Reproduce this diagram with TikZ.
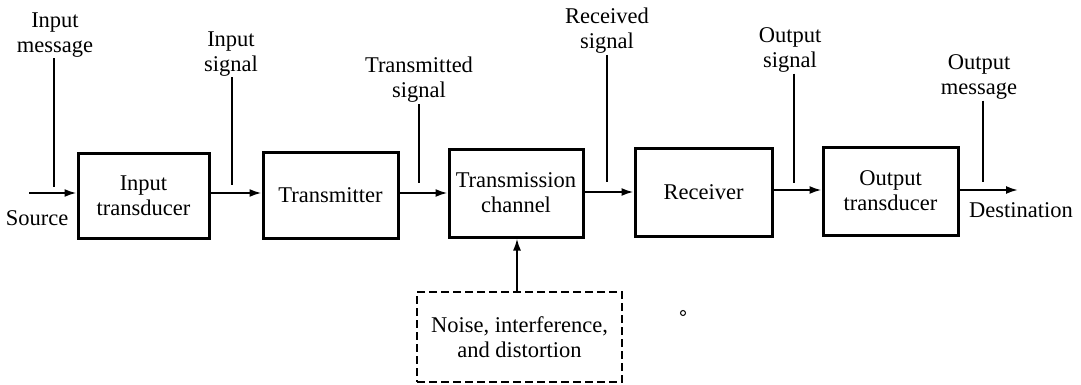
\documentclass[tikz,border=0pt]{standalone}
\usepackage{fontspec}
\setmainfont{Liberation Serif}
\usetikzlibrary{arrows.meta}
\begin{document}
\begin{tikzpicture}[x=1pt,y=-1pt,
  every node/.style={font=\fontsize{22.5}{25}\selectfont, text=black},
  blk/.style={draw, line width=3pt, align=center, inner sep=0pt},
  nbox/.style={draw, line width=2.6pt, dash pattern=on 8pt off 4pt, align=center, inner sep=0pt},
  lab/.style={align=center, inner sep=1pt},
  flow/.style={line width=2pt, -{Latex[length=12pt,width=8pt]}},
  tick/.style={line width=1.7pt}]
\useasboundingbox (0,0) rectangle (1081,385);
% blocks
\node[blk, minimum width=131pt, minimum height=85pt] (it) at (143.5,195.5) {Input\\transducer};
\node[blk, minimum width=135pt, minimum height=86pt] (tx) at (330.5,195) {Transmitter};
\node[blk, minimum width=134pt, minimum height=88pt] (ch) at (516,193) {Transmission\\channel};
\node[blk, minimum width=137pt, minimum height=88pt] (rx) at (703.5,192) {Receiver};
\node[blk, minimum width=135pt, minimum height=88pt] (ot) at (890.5,191) {Output\\transducer};
\node[nbox, minimum width=205pt, minimum height=90pt] (nz) at (519.5,337) {Noise, interference,\\and distortion};
% end points
\coordinate (src) at (29,193);
\coordinate (dst) at (1018,190);
% flow arrows
\draw[flow] (src) -- (src -| it.west);
\draw[flow] (it.east |- 0,193) -- (tx.west |- 0,193);
\draw[flow] (tx.east |- 0,193) -- (ch.west |- 0,193);
\draw[flow] (ch.east |- 0,192) -- (rx.west |- 0,192);
\draw[flow] (rx.east |- 0,190) -- (ot.west |- 0,190);
\draw[flow] (ot.east |- dst) -- (dst);
\draw[flow] (nz.north -| 517,0) -- (ch.south -| 517,0);
% end labels
\node[lab] (srcl) at (37,218) {Source};
\node[lab] (dstl) at (1021,210) {Destination};
% signal labels
\node[lab] (l1) at (55,35) {Input\\message};
\node[lab] (l2) at (231,54) {Input\\signal};
\node[lab] (l3) at (419,80) {Transmitted\\signal};
\node[lab] (l4) at (607,31) {Received\\signal};
\node[lab] (l5) at (790,50) {Output\\signal};
\node[lab] (l6) at (979,77) {Output\\message};
\coordinate (p1) at (54,187);
\coordinate (p2) at (232,185);
\coordinate (p3) at (419,183);
\coordinate (p4) at (607,182);
\coordinate (p5) at (794,183);
\coordinate (p6) at (983,182);
\draw[tick] (p1 |- l1.south) -- (p1);
\draw[tick] (p2 |- l2.south) -- (p2);
\draw[tick] (p3 |- l3.south) -- (p3);
\draw[tick] (p4 |- l4.south) -- (p4);
\draw[tick] (p5 |- l5.south) -- (p5);
\draw[tick] (p6 |- l6.south) -- (p6);
% small mark
\draw[line width=1pt] (683,313) circle (2.5pt);
\end{tikzpicture}
\end{document}
